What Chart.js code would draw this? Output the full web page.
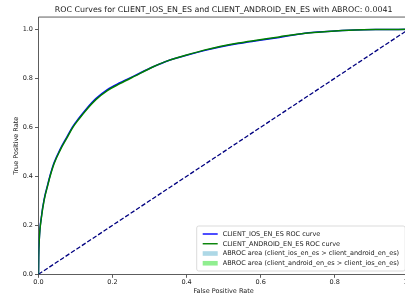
<!DOCTYPE html>
<html><head><meta charset="utf-8">
<script src="https://cdn.jsdelivr.net/npm/chart.js@4.4.0/dist/chart.umd.min.js"></script>
<style>
html,body{margin:0;padding:0;background:#fff;overflow:hidden;}
#wrap{width:405px;height:297px;overflow:hidden;position:relative;}
#wrap canvas{position:absolute;left:0;top:0;}
</style></head><body>
<div id="wrap"><canvas id="c" width="412" height="297" style="width:412px;height:297px"></canvas></div>
<script>
const titleText = "ROC Curves for CLIENT_IOS_EN_ES and CLIENT_ANDROID_EN_ES with ABROC: 0.0041";
const xAxisLabel = "False Positive Rate";
const yAxisLabel = "True Positive Rate";
const fpr = [0, 0.0005, 0.002, 0.008, 0.015, 0.026, 0.031, 0.042, 0.058, 0.078, 0.092, 0.11, 0.128, 0.155, 0.186, 0.22, 0.26, 0.31, 0.35, 0.40, 0.45, 0.49, 0.54, 0.598, 0.65, 0.72, 0.78, 0.855, 0.92, 1.0];
const tprIos = [0, 0.07, 0.141, 0.237, 0.305, 0.373, 0.402, 0.455, 0.509, 0.564, 0.602, 0.639, 0.673, 0.717, 0.754, 0.782, 0.811, 0.847, 0.872, 0.894, 0.914, 0.928, 0.942, 0.955, 0.967, 0.984, 0.991, 0.997, 0.999, 1.0];
const tprAndroid = [0, 0.07, 0.139, 0.233, 0.301, 0.369, 0.398, 0.451, 0.505, 0.560, 0.598, 0.635, 0.669, 0.713, 0.750, 0.778, 0.809, 0.847, 0.872, 0.895, 0.916, 0.930, 0.944, 0.957, 0.969, 0.984, 0.991, 0.997, 0.999, 1.0];
const diagX = [0, 1];
const diagY = [0, 1];
const xTicks = [0, 0.2, 0.4, 0.6, 0.8, 1.0];
const yTicks = [0, 0.2, 0.4, 0.6, 0.8, 1.0];
const seriesNames = ["CLIENT_IOS_EN_ES ROC curve", "CLIENT_ANDROID_EN_ES ROC curve"];
const areaNames = ["ABROC area (client_ios_en_es > client_android_en_es)", "ABROC area (client_android_en_es > client_ios_en_es)"];

const FONT = "'DejaVu Sans', sans-serif";
const TXT = '#1a1a1a';
const toPts = (xs, ys) => xs.map((x, i) => ({x: x, y: ys[i]}));

const legendItems = [
  {type: 'line', color: '#0000ff', text: seriesNames[0]},
  {type: 'line', color: '#008000', text: seriesNames[1]},
  {type: 'patch', color: '#add8e6', text: areaNames[0]},
  {type: 'patch', color: '#90ee90', text: areaNames[1]}
];

const framePlugin = {
  id: 'frame',
  afterDatasetsDraw(chart) {
    const {ctx, chartArea: a} = chart;
    ctx.save();
    ctx.strokeStyle = '#333';
    ctx.lineWidth = 0.8;
    ctx.beginPath();
    ctx.moveTo(a.left, a.top); ctx.lineTo(a.right, a.top); ctx.lineTo(a.right, a.bottom);
    ctx.stroke();
    ctx.restore();
  }
};

const legendPlugin = {
  id: 'mplLegend',
  afterDraw(chart) {
    const {ctx, chartArea: a} = chart;
    const right = a.right - 3.5, bottom = a.bottom - 3.3;
    const w = 208.5, h = 45;
    const left = right - w, top = bottom - h;
    ctx.save();
    ctx.beginPath();
    if (ctx.roundRect) ctx.roundRect(left, top, w, h, 2); else ctx.rect(left, top, w, h);
    ctx.fillStyle = 'rgba(255,255,255,0.85)';
    ctx.fill();
    ctx.strokeStyle = '#d2d2d2';
    ctx.lineWidth = 0.8;
    ctx.stroke();
    ctx.font = "6.5px " + FONT;
    ctx.textBaseline = 'middle';
    ctx.fillStyle = TXT;
    legendItems.forEach((it, i) => {
      const y = top + 8 + i * 9.75;
      const sx = left + 6, ex = left + 21;
      if (it.type === 'line') {
        ctx.strokeStyle = it.color;
        ctx.lineWidth = 1.4;
        ctx.beginPath(); ctx.moveTo(sx, y); ctx.lineTo(ex, y); ctx.stroke();
      } else {
        ctx.fillStyle = it.color;
        ctx.fillRect(sx, y - 2.3, ex - sx, 4.6);
      }
      ctx.fillStyle = TXT;
      ctx.fillText(it.text, left + 26, y + 0.3);
    });
    ctx.restore();
  }
};

new Chart(document.getElementById('c'), {
  type: 'line',
  data: {
    datasets: [
      {
        label: seriesNames[0],
        data: toPts(fpr, tprIos),
        borderColor: '#0000ff',
        borderWidth: 1.5,
        pointRadius: 0,
        cubicInterpolationMode: 'monotone',
        fill: {target: 1, above: 'rgba(173,216,230,0.5)', below: 'rgba(144,238,144,0.5)'},
        order: 1
      },
      {
        label: seriesNames[1],
        data: toPts(fpr, tprAndroid),
        borderColor: '#008000',
        borderWidth: 1.5,
        pointRadius: 0,
        cubicInterpolationMode: 'monotone',
        fill: false,
        order: 0
      },
      {
        label: 'diag',
        data: toPts(diagX, diagY),
        borderColor: '#000080',
        borderWidth: 1.3,
        borderDash: [4.5, 2],
        pointRadius: 0,
        fill: false,
        order: 2
      }
    ]
  },
  options: {
    responsive: false,
    animation: false,
    devicePixelRatio: 1,
    layout: {padding: {left: 0, right: 3.3, top: 0, bottom: 0}},
    plugins: {
      legend: {display: false},
      tooltip: {enabled: false},
      title: {
        display: true,
        text: titleText,
        fullSize: false,
        color: TXT,
        font: {family: FONT, size: 7.9, weight: 'normal', lineHeight: 1.2},
        padding: {top: 4.8, bottom: 2.78}
      }
    },
    scales: {
      x: {
        type: 'linear',
        min: 0, max: 1,
        afterBuildTicks: s => { s.ticks = xTicks.map(v => ({value: v})); },
        afterFit: s => { s.height = 22.7; s.paddingLeft = 0; s.paddingRight = 0; },
        ticks: {
          color: TXT,
          font: {family: FONT, size: 6.5},
          padding: 1,
          maxRotation: 0,
          autoSkip: false,
          callback: v => Number(v).toFixed(1)
        },
        grid: {display: true, drawOnChartArea: false, drawTicks: true, tickLength: 3.5, color: '#333', tickWidth: 0.8},
        border: {display: true, color: '#333', width: 0.8},
        title: {display: true, text: xAxisLabel, color: TXT, font: {family: FONT, size: 6.5, lineHeight: 1.2}, padding: {top: 0, bottom: 2}}
      },
      y: {
        type: 'linear',
        min: 0, max: 1.05,
        afterBuildTicks: s => { s.ticks = yTicks.map(v => ({value: v})); },
        afterFit: s => { s.width = 38.5; s.paddingTop = 0; s.paddingBottom = 0; },
        ticks: {
          color: TXT,
          font: {family: FONT, size: 6.5},
          padding: 2,
          autoSkip: false,
          callback: v => Number(v).toFixed(1)
        },
        grid: {display: true, drawOnChartArea: false, drawTicks: true, tickLength: 3.5, color: '#333', tickWidth: 0.8},
        border: {display: true, color: '#333', width: 0.8},
        title: {display: true, text: yAxisLabel, color: TXT, font: {family: FONT, size: 6.5, lineHeight: 1.2}, padding: {top: 12.8, bottom: 0}}
      }
    }
  },
  plugins: [framePlugin, legendPlugin]
});
</script>
</body></html>
